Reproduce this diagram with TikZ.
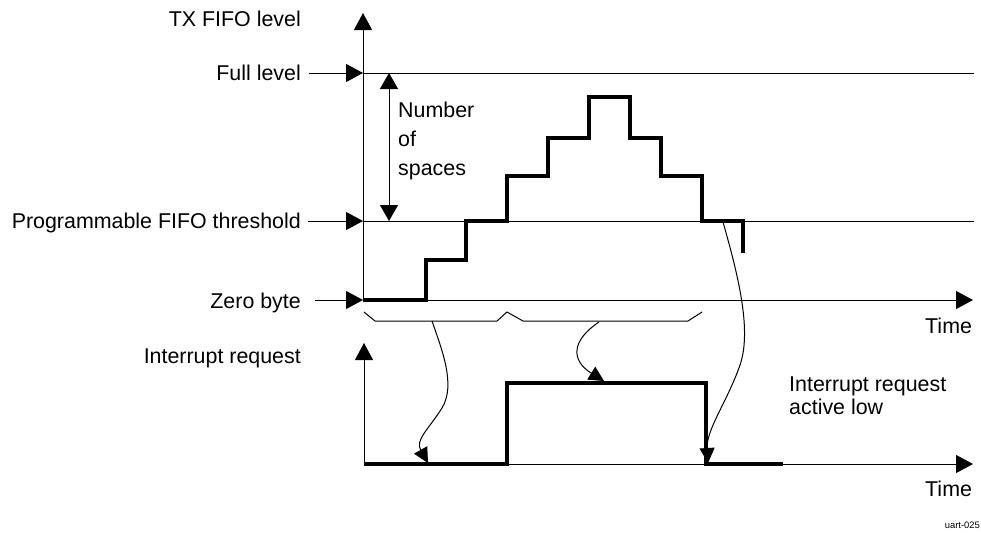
\documentclass[tikz,border=0pt]{standalone}
\usepackage{fontspec}
\setmainfont{Liberation Sans}
\usetikzlibrary{arrows.meta}
\tikzset{
  thinline/.style={line width=1pt},
  thickline/.style={line width=3.6pt, line join=miter},
  bigtip/.style={-{Triangle[length=17pt,width=18pt]}},
  curvetip/.style={line width=1pt,-{Triangle[length=15pt,width=15pt]}},
  lbl/.style={inner sep=0pt, font=\fontsize{21.4}{24}\selectfont},
  small/.style={inner sep=0pt, font=\fontsize{9.4}{11}\selectfont}
}
\begin{document}
\begin{tikzpicture}[x=1pt,y=-1pt]
\useasboundingbox (0,0) rectangle (981,533);
% coordinates
\coordinate (o1) at (363,300);
\coordinate (top1) at (363,13);
\coordinate (fullL) at (363,73);
\coordinate (fullR) at (974,73);
\coordinate (thrL) at (363,221);
\coordinate (thrR) at (974,221);
\coordinate (zeroR) at (973,300);
\coordinate (fullS) at (309,73);
\coordinate (thrS) at (308,221);
\coordinate (zeroS) at (315,300);
\coordinate (nsT) at (389,73);
\coordinate (nsB) at (389,221);
\coordinate (o2) at (364,464);
\coordinate (top2) at (364,343);
\coordinate (timeR2) at (973,464);
% labels
\node[lbl, anchor=base east] (ltx) at (301,26) {TX FIFO level};
\node[lbl, anchor=base east] (lfull) at (301,80) {Full level};
\node[lbl, anchor=base east] (lthr) at (301,228.5) {Programmable FIFO threshold};
\node[lbl, anchor=base east] (lzero) at (301,308) {Zero byte};
\node[lbl, anchor=base east] (lirq) at (301,363) {Interrupt request};
\node[lbl, anchor=base west] (lnum) at (398,117) {Number};
\node[lbl, anchor=base west] (lof) at (398,146) {of};
\node[lbl, anchor=base west] (lsp) at (398,175) {spaces};
\node[lbl, anchor=base west] (ltime1) at (925,333) {Time};
\node[lbl, anchor=base west] (ltime2) at (925,496) {Time};
\node[lbl, anchor=base west] (lact1) at (789,391) {Interrupt request};
\node[lbl, anchor=base west] (lact2) at (789,414) {active low};
\node[small, anchor=base east] (luart) at (980,528) {uart-025};
% axes and level lines
\draw[thinline, bigtip] (o1) -- (top1);
\draw[thinline] (fullL) -- (fullR);
\draw[thinline] (thrL) -- (thrR);
\draw[thinline, bigtip] (o1) -- (zeroR);
\draw[thinline, bigtip] (fullS) -- (fullL);
\draw[thinline, bigtip] (thrS) -- (thrL);
\draw[thinline, bigtip] (zeroS) -- (o1);
\draw[thinline, {Triangle[length=16pt,width=18pt]}-{Triangle[length=16pt,width=18pt]}] (nsT) -- (nsB);
\draw[thinline, bigtip] (o2) -- (top2);
\draw[thinline, bigtip] (o2) -- (timeR2);
% staircase
\draw[thickline] (o1) -- (426,300) -- (426,260) -- (466,260) -- (466,221) -- (507,221)
  -- (507,176) -- (548,176) -- (548,138) -- (589,138) -- (589,97) -- (630,97)
  -- (630,138) -- (661,138) -- (661,176) -- (702,176) -- (702,221) -- (743,221) -- (743,253);
% interrupt signal
\draw[thickline] (o2) -- (507,464) -- (507,383) -- (706,383) -- (706,464) -- (783,464);
% braces
\draw[thinline] (364,312) -- (375,321) -- (497,321) -- (507,312) -- (523,321) -- (688,321) -- (702,312);
% curved arrows
\coordinate (c1s) at (432,321);
\coordinate (c1e) at (428,463);
\draw[curvetip] (c1s) .. controls (442,350) and (456,385) .. (442,408)
  .. controls (428,430) and (415,440) .. (c1e);
\coordinate (c2s) at (599,322);
\coordinate (c2e) at (604,381);
\draw[curvetip] (c2s) .. controls (572,340) and (570,360) .. (c2e);
\coordinate (c3s) at (723,222);
\coordinate (c3e) at (708,463);
\draw[curvetip] (c3s) .. controls (738,275) and (752,330) .. (740,365)
  .. controls (728,400) and (706,430) .. (c3e);
\end{tikzpicture}
\end{document}
